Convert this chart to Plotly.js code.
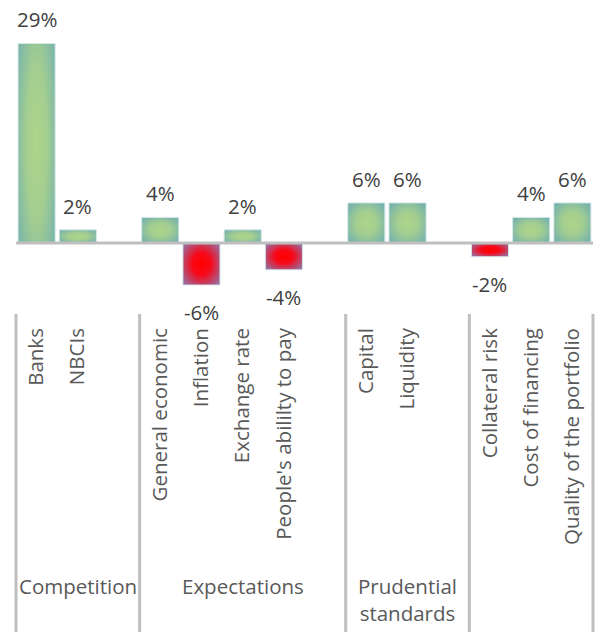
<!DOCTYPE html>
<html><head><meta charset="utf-8">
<script src="https://cdn.plot.ly/plotly-3.0.1.min.js"></script>
<style>html,body{margin:0;padding:0;background:#fff;} #chart{width:595px;height:643px;}</style>
</head><body><div id="chart"></div>
<script>
// ---- data ----
const categories = ['Banks','NBCIs',' ','General economic','Inflation','Exchange rate',"People's abililty to pay",'  ','Capital','Liquidity','   ','Collateral risk','Cost of financing','Quality of the portfolio'];
const values = [28.9, 1.9, null, 3.7, -6.1, 1.9, -3.9, null, 5.8, 5.8, null, -2.0, 3.7, 5.8];
const groupNames = ['Competition','Expectations','Prudential<br>standards',''];
const groupSizes = [3, 5, 3, 3];

// ---- styles ----
const FONT = 'Open Sans, Noto Sans, sans-serif';
const GREEN = '#93c49b', RED = '#e0203a';
const barColors = values.map(v => (v != null && v < 0) ? RED : GREEN);
const labels = values.map(v => v == null ? '' : Math.round(v) + '%');

const trace = {
  type: 'bar', x: categories, y: values, width: 0.9,
  marker: {color: barColors, line: {color: 'rgba(214,232,236,0.95)', width: 1}},
  hoverinfo: 'skip'
};

const annotations = [];
values.forEach((v, i) => {
  if (v == null) return;
  annotations.push({
    x: categories[i], y: v, xref: 'x', yref: 'y', text: labels[i], showarrow: false,
    yanchor: v >= 0 ? 'bottom' : 'top', yshift: v >= 0 ? 8 : -11,
    font: {family: FONT, size: 20.5, color: '#404040'}
  });
});

const nCat = categories.length;
const shapes = [];
let start = 0;
const boundaries = [0];
groupNames.forEach((g, k) => {
  const center = start + (groupSizes[k] - 1) / 2;
  if (g) annotations.push({
    x: center, xref: 'x', y: -0.814, yref: 'paper', yanchor: 'top', text: g, showarrow: false,
    font: {family: FONT, size: 20.5, color: '#595959'}
  });
  start += groupSizes[k];
  boundaries.push(start);
});
boundaries.forEach(b => {
  shapes.push({type: 'line', xref: 'paper', yref: 'paper', x0: b / nCat, x1: b / nCat, y0: 0, y1: -1.013,
    line: {color: '#bfbfbf', width: 3}, layer: 'above'});
});
shapes.push({type: 'line', xref: 'paper', yref: 'y', x0: 0, x1: 1, y0: 0, y1: 0,
  line: {color: '#bfbfbf', width: 3}, layer: 'above'});

const layout = {
  width: 595, height: 643,
  margin: {l: 16, r: 2, t: 0, b: 329},
  paper_bgcolor: '#fff', plot_bgcolor: '#fff',
  showlegend: false,
  bargap: 0.1,
  xaxis: {
    type: 'category', categoryorder: 'array', categoryarray: categories,
    range: [-0.5, nCat - 0.5], tickangle: -90,
    tickfont: {family: FONT, size: 20.5, color: '#595959'},
    showgrid: false, zeroline: false, showline: false, ticks: '',
    ticklabelstandoff: 9, fixedrange: true
  },
  yaxis: {range: [-10.3, 35.2], visible: false, showgrid: false, zeroline: false, fixedrange: true},
  annotations: annotations,
  shapes: shapes
};

Plotly.newPlot('chart', [trace], layout, {staticPlot: true, displayModeBar: false}).then(gd => {
  const svg = gd.querySelector('svg.main-svg');
  const defs = svg.querySelector('defs');
  const NS = 'http://www.w3.org/2000/svg';
  const GREEN_STOPS = [[0, '#afd48a'], [0.45, '#a3ce90'], [1, '#76b2ac']];
  const RED_STOPS = [[0, '#ff0000'], [0.4, '#f70818'], [1, '#9a6c9e']];
  let n = 0;
  gd.querySelectorAll('.barlayer .point path').forEach(p => {
    const m = (p.style.fill || '').match(/\d+/g);
    if (!m) return;
    const bb = p.getBBox();
    if (!bb.width || !bb.height) return;
    const isRed = +m[0] > +m[1];
    const cx = bb.x + bb.width / 2, cy = bb.y + bb.height / 2;
    const rx = 0.62 * bb.width;
    const ry = 0.62 * bb.height + 0.3 * Math.max(0, bb.height - bb.width);
    const id = 'barGrad' + (n++);
    const g = document.createElementNS(NS, 'radialGradient');
    g.setAttribute('id', id);
    g.setAttribute('gradientUnits', 'userSpaceOnUse');
    g.setAttribute('cx', cx); g.setAttribute('cy', cy); g.setAttribute('r', rx);
    g.setAttribute('gradientTransform', `translate(${cx},${cy}) scale(1,${ry / rx}) translate(${-cx},${-cy})`);
    (isRed ? RED_STOPS : GREEN_STOPS).forEach(([o, c]) => {
      const s = document.createElementNS(NS, 'stop');
      s.setAttribute('offset', o); s.setAttribute('stop-color', c); g.appendChild(s);
    });
    defs.appendChild(g);
    p.style.fill = 'url(#' + id + ')';
  });
});
</script>
</body></html>
